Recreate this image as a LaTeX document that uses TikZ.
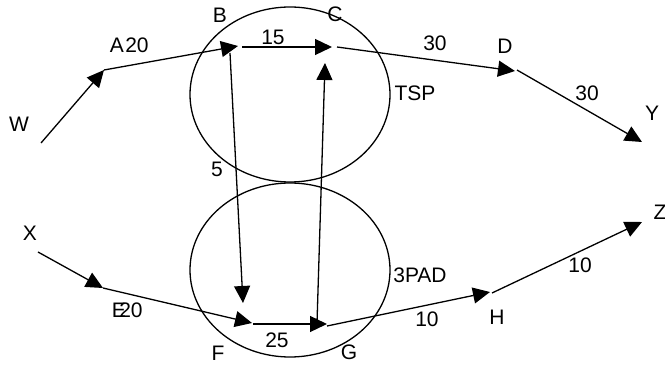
\documentclass[tikz,border=0pt]{standalone}
\usepackage{fontspec}
\setmainfont{Liberation Sans}
\usetikzlibrary{arrows.meta,shapes.geometric}
\tikzset{
  lbl/.style={inner sep=0pt, font=\fontsize{21}{24}\selectfont},
  arr/.style={line width=1.3pt, -{Triangle[length=17pt,width=16pt]}},
  ring/.style={draw, ellipse, line width=1.3pt, inner sep=0pt, minimum width=200pt, minimum height=175pt}
}
\begin{document}
\begin{tikzpicture}[x=1pt,y=-1pt]
\useasboundingbox (0,0) rectangle (665,366);
% ellipses
\node[ring] (tsp) at (290,94.5) {};
\node[ring, minimum height=174pt] (pad) at (290,270) {};
% endpoints
\coordinate (pW) at (41,143);
\coordinate (pA) at (104,70);
\coordinate (pB) at (238,46);
\coordinate (pBs) at (242,47);
\coordinate (pC) at (332,47);
\coordinate (pCs) at (337,47);
\coordinate (pD) at (515,71);
\coordinate (pDs) at (517,70);
\coordinate (pY) at (642,142);
\coordinate (pBd) at (230,53);
\coordinate (pF) at (243,303);
\coordinate (pX) at (38,252);
\coordinate (pE) at (103,288);
\coordinate (pFe) at (252,323);
\coordinate (pFs) at (253,324);
\coordinate (pG) at (327,324);
\coordinate (pGs) at (327,326);
\coordinate (pGu) at (317,323);
\coordinate (pCu) at (325,63);
\coordinate (pH) at (490,292);
\coordinate (pHs) at (492,293);
\coordinate (pZ) at (642,222);
% connectors
\draw[arr] (pW) -- (pA);
\draw[arr] (pA) -- (pB);
\draw[arr] (pBs) -- (pC);
\draw[arr] (pCs) -- (pD);
\draw[arr] (pDs) -- (pY);
\draw[arr] (pBd) -- (pF);
\draw[arr] (pX) -- (pE);
\draw[arr] (pE) -- (pFe);
\draw[arr] (pFs) -- (pG);
\draw[arr] (pGu) -- (pCu);
\draw[arr] (pGs) -- (pH);
\draw[arr] (pHs) -- (pZ);
% labels
\node[lbl] (tW) at (19,124) {W};
\node[lbl] (tA) at (117,45) {A};
\node[lbl] (tA20) at (137,45) {20};
\node[lbl] (tB) at (220,15) {B};
\node[lbl] (t15) at (273,37) {15};
\node[lbl] (tC) at (335,14) {C};
\node[lbl] (t30a) at (435,43) {30};
\node[lbl] (tD) at (505,46) {D};
\node[lbl] (t30b) at (587,93) {30};
\node[lbl] (tY) at (652,113) {Y};
\node[lbl] (tTSP) at (415,93) {TSP};
\node[lbl] (t5) at (217,169) {5};
\node[lbl] (tX) at (30,233) {X};
\node[lbl] (tE) at (119,310) {E};
\node[lbl] (tE20) at (131,310) {20};
\node[lbl] (tF) at (218,353) {F};
\node[lbl] (t25) at (277,340) {25};
\node[lbl] (tG) at (349,352) {G};
\node[lbl] (t10a) at (427,319) {10};
\node[lbl] (tH) at (497,317) {H};
\node[lbl] (t3PAD) at (420,275) {3PAD};
\node[lbl] (t10b) at (580,265) {10};
\node[lbl] (tZ) at (660,212) {Z};
\end{tikzpicture}
\end{document}
